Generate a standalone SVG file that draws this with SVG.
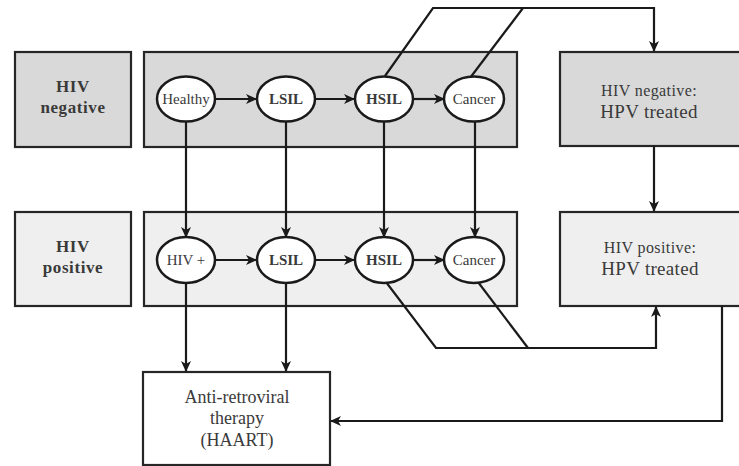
<svg xmlns="http://www.w3.org/2000/svg" width="739" height="466" viewBox="0 0 739 466">
<defs>
<marker id="ah" markerUnits="userSpaceOnUse" markerWidth="11" markerHeight="10" viewBox="0 0 11 10" refX="10" refY="5" orient="auto">
<path d="M0,0 L11,5 L0,10 L3,5 z" fill="#1a1a1a"/>
</marker>
<style>
.box{stroke:#262626;stroke-width:2.2}
.neg{fill:#d9d9d9}
.pos{fill:#efefef}
.wht{fill:#ffffff}
.nd{fill:#ffffff;stroke:#1a1a1a;stroke-width:2.5}
text{font-family:'Liberation Serif','DejaVu Serif',serif;fill:#3a3a3a;text-anchor:middle}
.lab{font-size:17px;font-weight:bold;letter-spacing:0.6px}
.n{font-size:15px}
.nb{font-size:15px;font-weight:bold}
.c{fill:none;stroke:#1a1a1a;stroke-width:2.2}
.a{marker-end:url(#ah)}
</style>
</defs>
<g id="hiv-negative-label">
<rect class="box neg" x="15" y="52" width="116" height="95"/>
<text class="lab" x="73" y="92">HIV</text>
<text class="lab" x="73" y="113">negative</text>
</g>
<g id="hiv-negative-row">
<rect class="box neg" x="144" y="52" width="373" height="95"/>
</g>
<g id="hiv-positive-label">
<rect class="box pos" x="15" y="212" width="116" height="94"/>
<text class="lab" x="73" y="252">HIV</text>
<text class="lab" x="73" y="273">positive</text>
</g>
<g id="hiv-positive-row">
<rect class="box pos" x="144" y="212" width="373" height="94"/>
</g>
<g id="hiv-neg-treated">
<rect class="box neg" x="560" y="52" width="190" height="94"/>
<text x="649" y="96" style="font-size:16px;letter-spacing:0.4px">HIV negative:</text>
<text x="649" y="118" style="font-size:19px;letter-spacing:0.3px">HPV treated</text>
</g>
<g id="hiv-pos-treated">
<rect class="box pos" x="560" y="212" width="190" height="94"/>
<text x="650" y="253" style="font-size:16px;letter-spacing:0.4px">HIV positive:</text>
<text x="650" y="275" style="font-size:19px;letter-spacing:0.3px">HPV treated</text>
</g>
<g id="haart">
<rect class="box wht" x="143" y="372" width="187" height="93"/>
<text x="237" y="403" style="font-size:18px">Anti-retroviral</text>
<text x="237" y="424" style="font-size:18px">therapy</text>
<text x="237" y="446" style="font-size:18px">(HAART)</text>
</g>
<g id="connectors">
<line class="c a" x1="215" y1="99" x2="256" y2="99"/>
<line class="c a" x1="315" y1="99" x2="354" y2="99"/>
<line class="c a" x1="413" y1="99" x2="444" y2="99"/>
<line class="c a" x1="215" y1="260" x2="256" y2="260"/>
<line class="c a" x1="315" y1="260" x2="354" y2="260"/>
<line class="c a" x1="413" y1="260" x2="444" y2="260"/>
<line class="c a" x1="186" y1="121" x2="186" y2="237"/>
<line class="c a" x1="286" y1="121" x2="286" y2="237"/>
<line class="c a" x1="384" y1="121" x2="384" y2="237"/>
<line class="c a" x1="475" y1="121" x2="475" y2="237"/>
<line class="c a" x1="186" y1="283" x2="186" y2="371"/>
<line class="c a" x1="286" y1="283" x2="286" y2="371"/>
<polyline class="c a" points="385,76 433,8 654,8 654,51"/>
<line class="c" x1="470" y1="78" x2="523" y2="8"/>
<line class="c a" x1="654" y1="146" x2="654" y2="211"/>
<polyline class="c a" points="386,282 436,348 656,348 656,307"/>
<line class="c" x1="478" y1="282" x2="528" y2="348"/>
<polyline class="c a" points="722,306 722,421 331,421"/>
</g>
<g id="node-healthy">
<ellipse class="nd" cx="186" cy="99" rx="29" ry="22.5"/>
<text class="n" x="186" y="104">Healthy</text>
</g>
<g id="node-lsil-neg">
<ellipse class="nd" cx="286" cy="99" rx="29" ry="22.5"/>
<text class="nb" x="286" y="104">LSIL</text>
</g>
<g id="node-hsil-neg">
<ellipse class="nd" cx="384" cy="99" rx="29" ry="22.5"/>
<text class="nb" x="384" y="104">HSIL</text>
</g>
<g id="node-cancer-neg">
<ellipse class="nd" cx="474" cy="99" rx="30" ry="22.5"/>
<text class="n" x="474" y="104">Cancer</text>
</g>
<g id="node-hivplus">
<ellipse class="nd" cx="186" cy="260" rx="29" ry="23"/>
<text class="n" x="186" y="265">HIV +</text>
</g>
<g id="node-lsil-pos">
<ellipse class="nd" cx="286" cy="260" rx="29" ry="23"/>
<text class="nb" x="286" y="265">LSIL</text>
</g>
<g id="node-hsil-pos">
<ellipse class="nd" cx="384" cy="260" rx="29" ry="23"/>
<text class="nb" x="384" y="265">HSIL</text>
</g>
<g id="node-cancer-pos">
<ellipse class="nd" cx="474" cy="260" rx="30" ry="23"/>
<text class="n" x="474" y="265">Cancer</text>
</g>
</svg>
